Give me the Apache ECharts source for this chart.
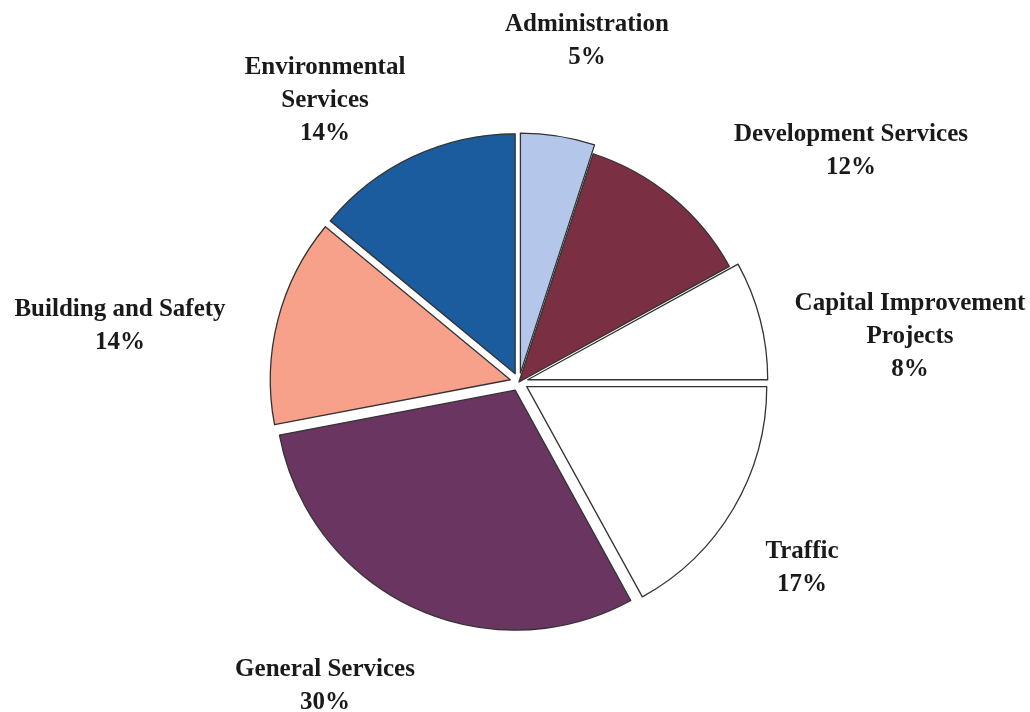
<!DOCTYPE html>
<html>
<head>
<meta charset="utf-8">
<script src="https://cdn.jsdelivr.net/npm/echarts@6/dist/echarts.min.js"></script>
<style>
  html, body { margin: 0; padding: 0; background: #ffffff; }
  #chart { width: 1030px; height: 712px; }
</style>
</head>
<body>
<div id="chart"></div>
<script>
// ---- Data ----
const categories = [
  "Administration",
  "Development Services",
  "Capital Improvement\nProjects",
  "Traffic",
  "General Services",
  "Building and Safety",
  "Environmental\nServices"
];
const shares = [5, 12, 8, 17, 30, 14, 14];

// ---- Styling (not data) ----
const sliceColors = ["#b4c6ea", "#7a2f42", "#ffffff", "#ffffff", "#6b3562", "#f7a18b", "#1a5c9e"];
const exploded = [true, false, true, true, true, true, true];
const labelAnchors = [[587, 41], [851, 151], [910, 337], [802, 568], [325, 686], [120, 326], [325, 101]];

const chart = echarts.init(document.getElementById('chart'), null, { renderer: 'canvas' });

const seriesData = categories.map((name, i) => ({
  name: name,
  value: shares[i],
  selected: exploded[i],
  itemStyle: { color: sliceColors[i] }
}));

const labelFont = {
  fontFamily: '"Liberation Serif", "DejaVu Serif", serif',
  fontWeight: 'bold',
  fontSize: 25,
  lineHeight: 33,
  fill: '#1a1a1a'
};

const labelGraphics = categories.map((name, i) => ({
  type: 'text',
  x: labelAnchors[i][0],
  y: labelAnchors[i][1],
  silent: true,
  style: Object.assign({
    text: name + '\n' + shares[i] + '%',
    align: 'center',
    verticalAlign: 'middle'
  }, labelFont)
}));

chart.setOption({
  animation: false,
  backgroundColor: '#ffffff',
  graphic: labelGraphics,
  series: [{
    type: 'pie',
    center: [519, 382],
    radius: 240,
    startAngle: 90,
    clockwise: true,
    selectedMode: 'multiple',
    selectedOffset: 9,
    silent: true,
    data: seriesData,
    itemStyle: { borderColor: '#333333', borderWidth: 1.3 },
    select: { itemStyle: { borderColor: '#333333', borderWidth: 1.3 } },
    emphasis: { disabled: true },
    labelLine: { show: false },
    label: { show: false }
  }]
});
</script>
</body>
</html>
